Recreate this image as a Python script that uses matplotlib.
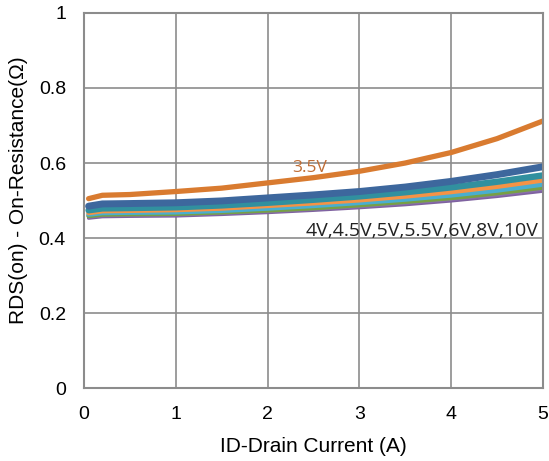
import matplotlib.pyplot as plt

# drain current (A)
current = [0.05, 0.2, 0.5, 1.0, 1.5, 2.0, 2.5, 3.0, 3.5, 4.0, 4.5, 5.0]

# on-resistance (ohm) per gate voltage
r_35v = [0.505, 0.514, 0.516, 0.524, 0.533, 0.547, 0.561, 0.578, 0.600, 0.628, 0.665, 0.712]
r_4v = [0.485, 0.491, 0.492, 0.494, 0.499, 0.507, 0.515, 0.524, 0.536, 0.551, 0.569, 0.590]
r_45v = [0.474, 0.479, 0.480, 0.482, 0.487, 0.494, 0.502, 0.511, 0.522, 0.535, 0.550, 0.567]
r_5v = [0.467, 0.472, 0.473, 0.475, 0.479, 0.486, 0.493, 0.501, 0.511, 0.523, 0.537, 0.554]
r_55v = [0.463, 0.467, 0.468, 0.469, 0.473, 0.479, 0.486, 0.494, 0.503, 0.514, 0.527, 0.543]
r_6v = [0.459, 0.463, 0.464, 0.465, 0.469, 0.474, 0.480, 0.488, 0.497, 0.507, 0.520, 0.535]
r_8v = [0.456, 0.460, 0.461, 0.462, 0.466, 0.471, 0.477, 0.484, 0.493, 0.503, 0.515, 0.530]
r_10v = [0.453, 0.457, 0.458, 0.459, 0.463, 0.468, 0.474, 0.481, 0.489, 0.499, 0.511, 0.525]

x_ticks = [0, 1, 2, 3, 4, 5]
y_ticks = [0, 0.2, 0.4, 0.6, 0.8, 1]
y_tick_labels = ["0", "0.2", "0.4", "0.6", "0.8", "1"]

fig = plt.figure(figsize=(5.49, 4.61), dpi=100)
ax = fig.add_axes([0.153, 0.158, 0.836, 0.814])

grid_color = "#8c8c8c"

# 4V..10V group, bottom first so the top ones stay on top
ax.plot(current, r_10v, color="#7f62a0", lw=2.4, solid_capstyle="round")
ax.plot(current, r_8v, color="#8a6fb0", lw=2.4, solid_capstyle="round")
ax.plot(current, r_6v, color="#77a046", lw=3.4, solid_capstyle="round")
ax.plot(current, r_55v, color="#4aaed0", lw=3.4, solid_capstyle="round")
ax.plot(current, r_5v, color="#f59345", lw=3.4, solid_capstyle="round")
ax.plot(current, r_45v, color="#31909f", lw=4.6, solid_capstyle="round")
ax.plot(current, r_4v, color="#3d679d", lw=5.0, solid_capstyle="round")
ax.plot(current, r_35v, color="#d97b30", lw=3.8, solid_capstyle="round")

ax.text(2.27, 0.587, "3.5V", color="#c06d35", fontsize=12.5, family="Open Sans",
        va="center", ha="left")
ax.text(2.41, 0.42, "4V,4.5V,5V,5.5V,6V,8V,10V", color="#222222", fontsize=14,
        family="Open Sans", va="center", ha="left")

ax.set_xlim(0, 5)
ax.set_ylim(0, 1)
ax.set_xticks(x_ticks)
ax.set_yticks(y_ticks)
ax.set_yticklabels(y_tick_labels)
ax.grid(True, color=grid_color, lw=1.2)
ax.set_axisbelow(True)
for s in ax.spines.values():
    s.set_color(grid_color)
    s.set_linewidth(1.5)

ax.tick_params(length=0, labelsize=14, pad=13)
for lab in ax.get_xticklabels() + ax.get_yticklabels():
    lab.set_family("Liberation Sans")

ax.set_xlabel("ID-Drain Current (A)", fontsize=15, family="Liberation Sans", labelpad=10)
ax.set_ylabel("RDS(on) - On-Resistance(Ω)", fontsize=15, family="Liberation Sans")
ax.yaxis.set_label_coords(-0.122, 0.528)

fig.savefig("out.png", dpi=100)
